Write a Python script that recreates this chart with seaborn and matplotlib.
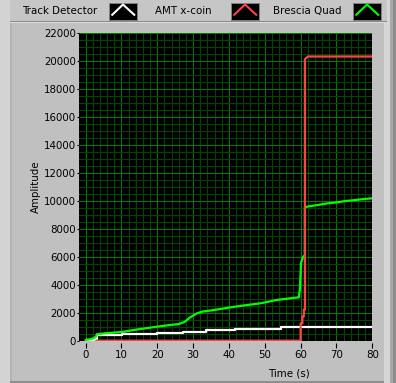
import matplotlib
matplotlib.use("Agg")
import matplotlib.pyplot as plt
import seaborn as sns
from matplotlib.ticker import MultipleLocator
from matplotlib.patches import Rectangle

# ---------------- data ----------------
series_names = ["Track Detector", "AMT x-coin", "Brescia Quad"]
series_colors = ["#ffffff", "#ff4343", "#00ff00"]

track_time = [0, 2.8, 3.1, 10.1, 19.9, 27.3, 33.5, 41.7, 54.4, 80]
track_amp = [30, 100, 440, 510, 560, 630, 750, 830, 950, 950]

amt_time = [3.0, 60.0, 60.0, 60.5, 60.5, 60.9, 60.9, 61.2, 61.2, 61.6, 62.0, 80]
amt_amp = [0, 0, 1240, 1240, 1740, 1740, 2220, 2220, 20100, 20200, 20300, 20300]

brescia_time = [0, 1.7, 3.0, 3.1, 5.5, 10.1, 13.4, 19.9, 23.6, 26.0, 27.6, 29.2,
                31.1, 32.5, 35.8, 40.4, 45.1, 48.8, 53.3, 57.2, 59.5, 59.8, 60.1,
                60.4, 60.7, 61.2, 61.2, 61.7, 64.7, 67.5, 70.3, 72.6, 75.4, 77.7, 80]
brescia_amp = [50, 120, 290, 457, 530, 620, 764, 1000, 1120, 1190, 1336, 1670,
               1957, 2071, 2190, 2380, 2550, 2670, 2907, 3028, 3100, 3670, 5530,
               5764, 6000, 6100, 9500, 9572, 9690, 9810, 9890, 9980, 10050, 10120, 10170]

x_ticks = [0, 10, 20, 30, 40, 50, 60, 70, 80]
y_ticks = [0, 2000, 4000, 6000, 8000, 10000, 12000, 14000, 16000, 18000, 20000, 22000]
x_label = "Time (s)"
y_label = "Amplitude"

# ---------------- style ----------------
sns.set_style("ticks")
plt.rcParams["font.family"] = ["DejaVu Sans"]
FS = 7.4
PANEL = "#c0c0c0"

W, H = 396, 383
fig = plt.figure(figsize=(W / 100, H / 100), dpi=100)
fig.patch.set_facecolor(PANEL)

# background decoration (panel bevels + legend)
bg = fig.add_axes([0, 0, 1, 1], zorder=-10)
bg.set_xlim(0, W)
bg.set_ylim(H, 0)
bg.axis("off")
bg.add_patch(Rectangle((0, 0), 10, H, color="#d3d3d3", lw=0))
bg.add_patch(Rectangle((10, 23), 2, H, color="#b4b4b4", lw=0))
bg.add_patch(Rectangle((384, 0), 6, H, color="#d6d6d6", lw=0))
bg.add_patch(Rectangle((390, 0), 3, H, color="#a8a8a8", lw=0))
bg.add_patch(Rectangle((393, 0), 3, H, color="#8c8c8c", lw=0))
bg.add_patch(Rectangle((10, 381), 374, 2, color="#8e8e8e", lw=0))
# legend strip
bg.add_patch(Rectangle((10, 0), 377, 21, color="#c6c6c6", lw=0))
bg.add_patch(Rectangle((10, 21), 377, 1, color="#8a8a8a", lw=0))
bg.add_patch(Rectangle((10, 22), 374, 1, color="#dcdcdc", lw=0))

leg_text_x = [22, 155, 273]
leg_icon_x = [109, 231, 353]
for name, col, tx, ix in zip(series_names, series_colors, leg_text_x, leg_icon_x):
    bg.text(tx, 11, name, fontsize=FS, va="center", ha="left", color="black")
    bg.add_patch(Rectangle((ix, 2.5), 28, 17.5, facecolor="black",
                           edgecolor="#808080", lw=0.7))
    bg.plot([ix + 2.5, ix + 14, ix + 26], [15.5, 4.5, 15.5], color=col, lw=1.5,
            solid_capstyle="butt")

# main plot area
left, right, top, bottom = 78.7, 372.3, 32.7, 340.7
ax = fig.add_axes([left / W, 1 - bottom / H, (right - left) / W, (bottom - top) / H])
ax.set_facecolor("black")

sns.lineplot(x=track_time, y=track_amp, ax=ax, color=series_colors[0], lw=1.6,
             estimator=None, sort=False, drawstyle="steps-post", zorder=3)
sns.lineplot(x=brescia_time, y=brescia_amp, ax=ax, color=series_colors[2], lw=1.6,
             estimator=None, sort=False, zorder=4)
sns.lineplot(x=amt_time, y=amt_amp, ax=ax, color=series_colors[1], lw=1.6,
             estimator=None, sort=False, zorder=5)

ax.set_xlim(-1.9, 80)
ax.set_ylim(0, 22000)
ax.set_xticks(x_ticks)
ax.set_yticks(y_ticks)
ax.xaxis.set_minor_locator(MultipleLocator(2))
ax.yaxis.set_minor_locator(MultipleLocator(500))
ax.grid(which="minor", color="#004800", lw=0.75)
ax.grid(which="major", color="#007c00", lw=0.75)
ax.set_axisbelow(True)

for s in ax.spines.values():
    s.set_visible(False)
ax.spines["bottom"].set_position(("outward", 1.5))

ax.tick_params(axis="x", which="major", length=3.3, width=0.8, color="black",
               pad=2, labelsize=FS, labelcolor="black")
ax.tick_params(axis="y", which="major", length=1.5, width=0.8, color="black",
               pad=0.6, labelsize=FS, labelcolor="black")
ax.tick_params(which="minor", length=0)

ax.set_xlabel(x_label, fontsize=FS, color="black")
ax.set_ylabel(y_label, fontsize=FS, color="black")
ax.xaxis.set_label_coords((288.5 - left) / (right - left), (bottom - 373) / (bottom - top))
ax.xaxis.label.set_va("center")
ax.yaxis.set_label_coords((36 - left) / (right - left), 0.5)
ax.yaxis.label.set_va("center")

fig.savefig("out.png", dpi=100, facecolor=fig.get_facecolor())
